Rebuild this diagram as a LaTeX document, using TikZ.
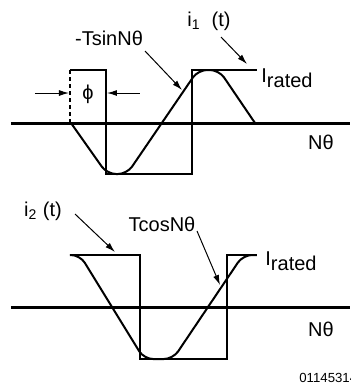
\documentclass[tikz,border=0pt]{standalone}
\usepackage{fontspec}
\setmainfont{Liberation Sans}
\usetikzlibrary{arrows.meta}

\begin{document}
\begin{tikzpicture}[x=0.5pt, y=-0.5pt,
		every node/.style={inner sep=1pt, font=\fontsize{10}{12}\selectfont},
		axis/.style={line width=1.5pt},
		wave/.style={line width=1pt},
		pointer/.style={line width=0.5pt, -{Latex[length=5pt, width=3pt]}}]
		\useasboundingbox (0,0) rectangle (350,387);

		% Upper plot: axis
		\coordinate (axAL) at (11,123);
		\coordinate (axAR) at (350,123);
		\draw[axis] (axAL) -- (axAR);

		% Square wave i_1(t)
		\draw[wave, dash pattern=on 2pt off 1.5pt] (70,70) -- (70,123);
		\draw[wave] (70,70) -- (106,70) -- (106,174) -- (192,174) -- (192,70) -- (257,70);

		% Trapezoid -TsinN theta
		\draw[wave, rounded corners=4.5pt] (71,123) -- (107,174) -- (127,174) -- (198,70) -- (219,70) -- (255,123);

		% Phase shift
		\coordinate (phiA) at (35,93);
		\coordinate (phiB) at (69,93);
		\coordinate (phiC) at (140,93);
		\coordinate (phiD) at (107,93);
		\draw[pointer] (phiA) -- (phiB);
		\draw[pointer] (phiC) -- (phiD);

		% Pointers of upper plot
		\coordinate (sinT) at (145,51);
		\coordinate (sinH) at (182,90);
		\coordinate (iaT) at (221,37);
		\coordinate (iaH) at (247,64);
		\draw[pointer] (sinT) -- (sinH);
		\draw[pointer] (iaT) -- (iaH);

		% Labels of upper plot
		\node (phi)   at (88,94)  {ϕ};
		\node (sinl)  at (109,38) {-TsinNθ};
		\node (ia)    at (209,21) {i\textsubscript{1}\ \ (t)};
		\node (rateA) at (287,78) {I\raisebox{-0.5ex}{rated}};
		\node (thA)   at (321,142) {Nθ};

		% Lower plot: axis
		\coordinate (axBL) at (11,307);
		\coordinate (axBR) at (350,307);
		\draw[axis] (axBL) -- (axBR);

		% Square wave i_2(t)
		\draw[wave] (70,255) -- (140,255) -- (140,359) -- (227,359) -- (227,255) -- (257,255);

		% Trapezoid TcosN theta
		\draw[wave, rounded corners=4.5pt] (70,255) -- (80,255) -- (144,359) -- (173,359) -- (243,255) -- (257,255);

		% Pointers of lower plot
		\coordinate (ibT) at (75,214);
		\coordinate (ibH) at (115,252);
		\coordinate (cosT) at (197,231);
		\coordinate (cosH) at (220,285);
		\draw[pointer] (ibT) -- (ibH);
		\draw[pointer] (cosT) -- (cosH);

		% Labels of lower plot
		\node (ib)    at (43,211)  {i\textsubscript{2} (t)};
		\node (cosl)  at (162,224) {TcosNθ};
		\node (rateB) at (291,261) {I\raisebox{-0.5ex}{rated}};
		\node (thB)   at (321,329) {Nθ};

		% Figure number
		\node[anchor=west, font=\fontsize{6.6}{8}\selectfont] (fig) at (297,378) {01145314};
	\end{tikzpicture}
\end{document}
